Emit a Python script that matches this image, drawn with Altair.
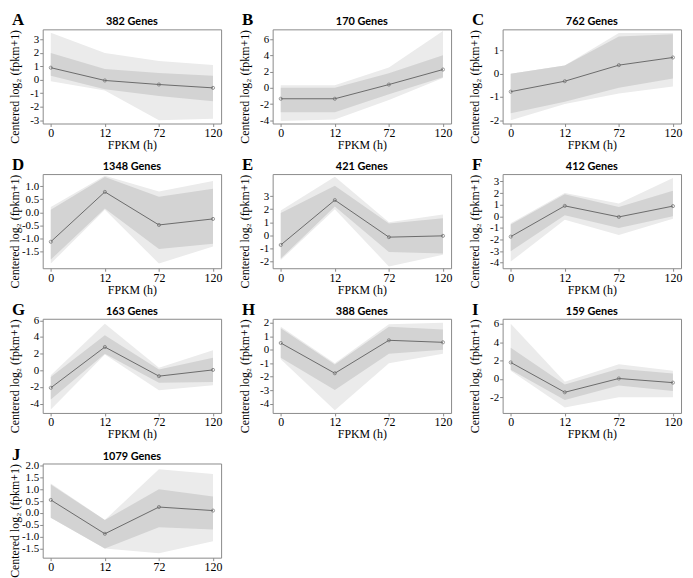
import altair as alt
import pandas as pd

letters = ["A", "B", "C", "D", "E", "F", "G", "H", "I", "J"]
gene_counts = [382, 170, 762, 1348, 421, 412, 163, 388, 159, 1079]
time_labels = ["0", "12", "72", "120"]

# mean profile of each cluster (dark line)
mean_vals = [
    [0.9, -0.05, -0.35, -0.6],
    [-1.35, -1.35, 0.4, 2.25],
    [-0.77, -0.32, 0.37, 0.7],
    [-1.12, 0.78, -0.48, -0.25],
    [-0.75, 2.7, -0.15, -0.05],
    [-1.75, 0.9, -0.05, 0.88],
    [-2.1, 2.8, -0.7, 0.05],
    [0.5, -1.75, 0.7, 0.55],
    [1.8, -1.45, 0.05, -0.4],
    [0.55, -0.88, 0.25, 0.1],
]
# dense core of gene profiles
core_lo = [
    [0.3, -0.7, -1.2, -1.6],
    [-3.0, -3.0, -0.8, 1.3],
    [-1.7, -1.2, -0.6, -0.2],
    [-1.8, 0.15, -1.4, -1.2],
    [-1.8, 2.2, -1.3, -1.4],
    [-3.0, 0.1, -1.0, 0.0],
    [-3.5, 2.0, -1.5, -1.4],
    [-0.6, -3.0, -0.3, 0.0],
    [1.0, -2.3, -0.7, -1.3],
    [-0.2, -1.5, -0.6, -0.7],
]
core_hi = [
    [2.0, 0.8, 0.5, 0.3],
    [0.0, 0.0, 1.8, 4.0],
    [0.0, 0.35, 1.6, 1.7],
    [0.1, 1.35, 0.6, 0.9],
    [1.7, 3.8, 0.9, 1.3],
    [-0.7, 1.9, 0.8, 2.2],
    [-0.8, 4.2, 0.1, 1.5],
    [1.6, -1.1, 1.7, 1.5],
    [3.4, -0.6, 1.1, 0.6],
    [1.2, -0.3, 1.0, 0.7],
]
# outermost gene profiles
edge_lo = [
    [-0.1, -0.8, -3.0, -2.9],
    [-4.1, -3.9, -1.5, 1.2],
    [-2.0, -1.3, -0.85, -0.55],
    [-1.95, 0.1, -1.95, -1.3],
    [-1.9, 2.0, -2.4, -1.5],
    [-3.9, -0.3, -1.6, -0.2],
    [-4.7, 1.9, -2.4, -1.8],
    [-0.7, -4.5, -1.0, -0.3],
    [0.9, -3.1, -2.0, -2.0],
    [-0.2, -1.5, -1.7, -1.2],
]
edge_hi = [
    [3.5, 2.0, 1.4, 1.1],
    [0.3, 0.3, 2.5, 7.0],
    [0.0, 0.35, 1.75, 1.75],
    [0.2, 1.4, 0.8, 1.2],
    [1.9, 4.5, 1.0, 1.6],
    [-0.6, 2.0, 1.1, 3.3],
    [-0.6, 5.6, 0.3, 2.4],
    [1.7, -1.0, 1.9, 2.0],
    [6.0, -0.3, 1.6, 0.9],
    [1.25, -0.3, 1.85, 1.65],
]
y_domains = [
    [-3.25, 3.75], [-4.4, 7.2], [-2.14, 1.91], [-2.13, 1.46], [-2.54, 4.7],
    [-4.47, 3.64], [-5.12, 6.19], [-4.7, 2.3], [-3.7, 6.55], [-1.89, 2.09],
]
y_ticks = [
    [-3, -2, -1, 0, 1, 2, 3],
    [-4, -2, 0, 2, 4, 6],
    [-2, -1, 0, 1],
    [-1.5, -1.0, -0.5, 0.0, 0.5, 1.0],
    [-2, -1, 0, 1, 2, 3],
    [-4, -3, -2, -1, 0, 1, 2, 3],
    [-4, -2, 0, 2, 4, 6],
    [-4, -3, -2, -1, 0, 1, 2],
    [-2, 0, 2, 4, 6],
    [-1.5, -1.0, -0.5, 0.0, 0.5, 1.0, 1.5, 2.0],
]
y_decimals = [0, 0, 0, 1, 0, 0, 0, 0, 0, 1]

W, H = 180, 95
SERIF = "Liberation Serif"

x_label_expr = "[" + ",".join("'%s'" % t for t in time_labels) + "][datum.value]"


def panel(i):
    df = pd.DataFrame({
        "idx": list(range(len(time_labels))),
        "mean": mean_vals[i],
        "clo": core_lo[i],
        "chi": core_hi[i],
        "elo": edge_lo[i],
        "ehi": edge_hi[i],
    })
    dec = y_decimals[i]
    fmt = ".1f" if dec else "d"
    ylab = ("datum.value < 0 ? '-' + format(abs(datum.value), '%s') : format(datum.value, '%s')"
            % (fmt, fmt))
    last = i == len(letters) - 1
    common = dict(labelFont=SERIF, labelColor="black", labelPadding=1,
                  labelOverlap=False, tickColor="#8a8a8a", tickSize=3, domain=False, grid=False,
                  titleFont=SERIF, titleFontSize=12, titleFontWeight="normal",
                  titleColor="black", titlePadding=1)
    xaxis = alt.Axis(values=[0, 1, 2, 3], labelExpr=x_label_expr, labelFontSize=12,
                     title=None if last else "FPKM (h)", **common)
    xscale = alt.Scale(domain=[-0.15, 3.15], nice=False, zero=False)
    yscale = alt.Scale(domain=y_domains[i], nice=False, zero=False)
    yaxis = alt.Axis(values=y_ticks[i], labelExpr=ylab, labelFontSize=11,
                     title="Centered log₂ (fpkm+1)",
                     minExtent=20, maxExtent=20, titleY=H / 2 + 10, **common)

    def X():
        return alt.X("idx:Q", scale=xscale, axis=xaxis)

    def Y(f):
        return alt.Y(f, scale=yscale, axis=yaxis)

    base = alt.Chart(df)
    edge = base.mark_area(color="#ebebeb", opacity=1).encode(
        x=X(), y=Y("elo:Q"), y2="ehi:Q")
    core = base.mark_area(color="#d3d3d3", opacity=1).encode(
        x=X(), y=Y("clo:Q"), y2="chi:Q")
    line = base.mark_line(color="#6a6a6a", strokeWidth=1).encode(x=X(), y=Y("mean:Q"))
    pts = base.mark_point(color="#6a6a6a", size=10, strokeWidth=1, filled=False).encode(
        x=X(), y=Y("mean:Q"))
    heads = alt.Chart(pd.DataFrame({"letter": [letters[i]],
                                    "genes": ["%d Genes" % gene_counts[i]]}))
    lab = heads.mark_text(
        font=SERIF, fontWeight="bold", fontSize=17, align="left", baseline="alphabetic",
        color="black").encode(x=alt.value(-31), y=alt.value(-4), text="letter:N")
    ttl = heads.mark_text(
        font="Lato", fontWeight="bold", fontSize=11, align="center", baseline="alphabetic",
        color="black").encode(x=alt.value(W / 2), y=alt.value(-4), text="genes:N")
    return alt.layer(edge, core, line, pts, lab, ttl).properties(width=W, height=H)


chart = alt.concat(*[panel(i) for i in range(len(letters))], columns=3,
                   spacing={"row": 4, "column": 15}).properties(
    padding={"left": 0, "top": 0, "right": 2, "bottom": 0}
).configure_view(stroke="#8a8a8a", strokeWidth=1).configure_axis(labelOverlap=False)

chart.save("out.html", embed_options={"renderer": "svg", "actions": False})
